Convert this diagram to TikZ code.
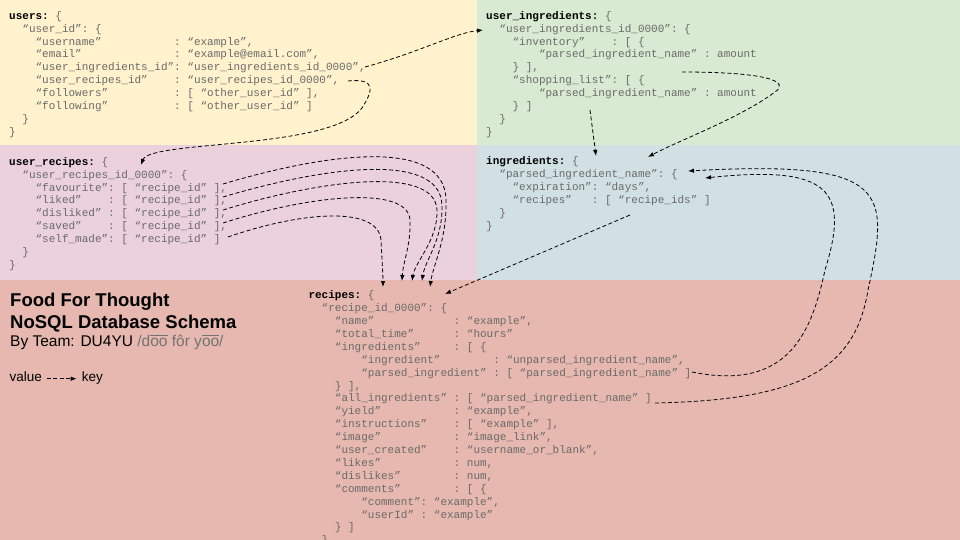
\documentclass[tikz,border=0pt]{standalone}
\usepackage{fontspec}
\setmainfont{Liberation Sans}
\newfontfamily\codefont{Liberation Mono}
\usetikzlibrary{calc,arrows.meta}

\definecolor{usersbg}{HTML}{FFF2CC}
\definecolor{uingbg}{HTML}{D9EAD3}
\definecolor{urecbg}{HTML}{EAD1DC}
\definecolor{ingbg}{HTML}{D0E0E3}
\definecolor{recbg}{HTML}{E6B8AF}
\definecolor{codegrey}{HTML}{6A6A6A}
\definecolor{notegrey}{HTML}{737373}

\tikzset{
  code/.style={anchor=north west, align=left, inner sep=0pt, text=codegrey,
    font=\codefont\fontsize{11}{12.9}\selectfont\frenchspacing},
  refarrow/.style={dash pattern=on 4pt off 2.5pt, line width=0.8pt,
    -{Latex[length=6pt,width=4.5pt]}},
  legend/.style={anchor=base west, inner xsep=5pt, inner ysep=0pt,
    text height=9pt, text depth=3pt, font=\fontsize{13.5}{16}\selectfont}
}
\newcommand\kw[1]{{\color{black}\bfseries #1}}
\newcommand\oobar{\leavevmode\vbox{\hrule height 0.07em\kern0.17em\hbox{oo}}}

\begin{document}
\begin{tikzpicture}[x=1pt,y=-1pt]
\useasboundingbox (0,0) rectangle (960,540);
\clip (0,0) rectangle (960,540);
% panels
\fill[usersbg] (0,0) rectangle (477,145);
\fill[uingbg] (477,0) rectangle (960,145);
\fill[urecbg] (0,145) rectangle (477,279.5);
\fill[ingbg] (477,145) rectangle (960,279.5);
\fill[recbg] (0,279.5) rectangle (960,540);

% collections
\node[code] (users) at (9,10) {\strut\kw{users:} \{\\
~~“user\_id”: \{\\
~~~~“username”~~~~~~~~~~~: “example”,\\
~~~~“email”~~~~~~~~~~~~~~: “example@email.com”,\\
~~~~“user\_ingredients\_id”: “user\_ingredients\_id\_0000”,\\
~~~~“user\_recipes\_id”~~~~: “user\_recipes\_id\_0000”,\\
~~~~“followers”~~~~~~~~~~: [ “other\_user\_id” ],\\
~~~~“following”~~~~~~~~~~: [ “other\_user\_id” ]\\
~~\}\\
\}};
\node[code] (uing) at (486,10) {\strut\kw{user\_ingredients:} \{\\
~~“user\_ingredients\_id\_0000”: \{\\
~~~~“inventory”~~~~: [ \{\\
~~~~~~~~“parsed\_ingredient\_name” : amount\\
~~~~\} ],\\
~~~~“shopping\_list”: [ \{\\
~~~~~~~~“parsed\_ingredient\_name” : amount\\
~~~~\} ]\\
~~\}\\
\}};
\node[code] (urec) at (9,156) {\strut\kw{user\_recipes:} \{\\
~~“user\_recipes\_id\_0000”: \{\\
~~~~“favourite”: [ “recipe\_id” ],\\
~~~~“liked”~~~~: [ “recipe\_id” ],\\
~~~~“disliked”~: [ “recipe\_id” ],\\
~~~~“saved”~~~~: [ “recipe\_id” ],\\
~~~~“self\_made”: [ “recipe\_id” ]\\
~~\}\\
\}};
\node[code] (ing) at (486,155.5) {\strut\kw{ingredients:} \{\\
~~“parsed\_ingredient\_name”: \{\\
~~~~“expiration”: “days”,\\
~~~~“recipes”~~~: [ “recipe\_ids” ]\\
~~\}\\
\}};
\node[code] (rec) at (308.3,289.5) {\strut\kw{recipes:} \{\\
~~“recipe\_id\_0000”: \{\\
~~~~“name”~~~~~~~~~~~~: “example”,\\
~~~~“total\_time”~~~~~~: “hours”\\
~~~~“ingredients”~~~~~: [ \{\\
~~~~~~~~“ingredient”~~~~~~~~: “unparsed\_ingredient\_name”,\\
~~~~~~~~“parsed\_ingredient” : [ “parsed\_ingredient\_name” ]\\
~~~~\} ],\\
~~~~“all\_ingredients” : [ “parsed\_ingredient\_name” ]\\
~~~~“yield”~~~~~~~~~~~: “example”,\\
~~~~“instructions”~~~~: [ “example” ],\\
~~~~“image”~~~~~~~~~~~: “image\_link”,\\
~~~~“user\_created”~~~~: “username\_or\_blank”,\\
~~~~“likes”~~~~~~~~~~~: num,\\
~~~~“dislikes”~~~~~~~~: num,\\
~~~~“comments”~~~~~~~~: [ \{\\
~~~~~~~~“comment”: “example”,\\
~~~~~~~~“userId”~: “example”\\
~~~~\} ]\\
~~\}};

% title and legend
\node[anchor=base west, inner sep=0pt, font=\bfseries\fontsize{18.5}{22}\selectfont] (title) at (10,306) {Food For Thought};
\node[anchor=base west, inner sep=0pt, font=\bfseries\fontsize{18.5}{22}\selectfont] (subtitle) at (10,328.3) {NoSQL Database Schema};
\node[anchor=base west, inner sep=0pt, font=\fontsize{15.5}{18}\selectfont] (team) at (10,346.7) {By Team: DU4YU {\color{notegrey}/d\oobar{} fôr y\oobar/}};
\node[legend] (value) at (4.3,381.7) {value};
\node[legend] (key) at (76.7,381.7) {key};
\draw[refarrow] (value) -- (key);

% value ends and key ends
\coordinate (uingval) at (365,67);
\coordinate (uingkey) at (483,30);
\coordinate (urecval) at (348,81);
\coordinate (ureckey) at (141,165);
\coordinate (invval) at (682,72);
\coordinate (shopval) at (590,110);
\coordinate (ingkeyA) at (648,157);
\coordinate (ingkeyB) at (596,156);
\coordinate (recidsval) at (630,215);
\coordinate (reckey) at (445,294);
\coordinate (favval) at (223,184);
\coordinate (likedval) at (223,197);
\coordinate (dislval) at (223,210);
\coordinate (savedval) at (223,223);
\coordinate (selfval) at (228,237);
\coordinate (favkey) at (430,287);
\coordinate (likedkey) at (422,281);
\coordinate (dislkey) at (412,281);
\coordinate (savedkey) at (402,281);
\coordinate (selfkey) at (383,287);
\coordinate (pingval) at (692,372);
\coordinate (allingval) at (655,403);
\coordinate (ingkeyC) at (705,178);
\coordinate (ingkeyD) at (688,171);

% links
\draw[refarrow] (uingval) .. controls (420,52) and (455,33) .. (uingkey);
\draw[refarrow] (urecval) .. controls (378,78) and (372,92) .. (362,108) .. controls (330,150) and (150,140) .. (ureckey);
\draw[refarrow] (invval) .. controls (770,72) and (790,82) .. (775,92) .. controls (740,118) and (680,140) .. (ingkeyA);
\draw[refarrow] (shopval) -- (ingkeyB);
\draw[refarrow] (recidsval) -- (reckey);
\draw[refarrow] (favval) .. controls (320,155) and (445,135) .. (446,200) .. controls (447,240) and (433,265) .. (favkey);
\draw[refarrow] (likedval) .. controls (320,168) and (440,150) .. (442,205) .. controls (443,240) and (425,260) .. (likedkey);
\draw[refarrow] (dislval) .. controls (320,180) and (435,165) .. (437,210) .. controls (438,240) and (415,262) .. (dislkey);
\draw[refarrow] (savedval) .. controls (310,195) and (408,185) .. (410,220) .. controls (411,245) and (403,262) .. (savedkey);
\draw[refarrow] (selfval) .. controls (300,212) and (378,205) .. (381,240) .. controls (382,260) and (383,275) .. (selfkey);
\draw[refarrow] (pingval) .. controls (790,392) and (812,330) .. (825,270) .. controls (850,190) and (830,165) .. (ingkeyC);
\draw[refarrow] (allingval) .. controls (800,400) and (855,370) .. (868,290) .. controls (890,190) and (890,160) .. (ingkeyD);
\end{tikzpicture}
\end{document}
